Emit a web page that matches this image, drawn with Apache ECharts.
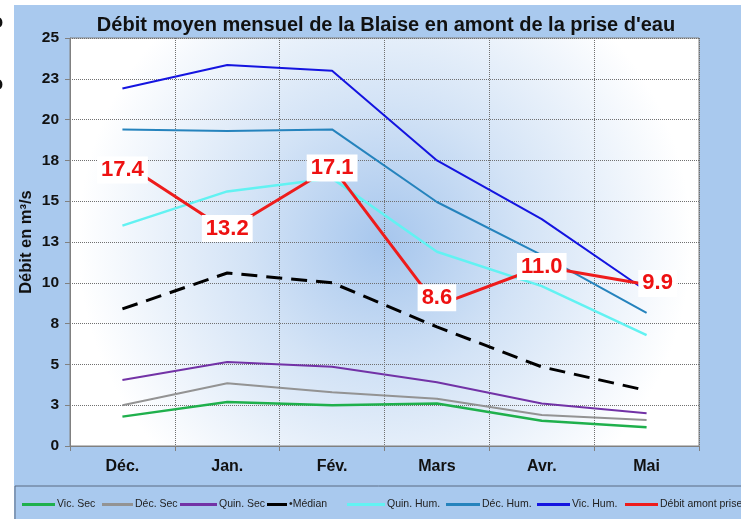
<!DOCTYPE html>
<html>
<head>
<meta charset="utf-8">
<script src="https://cdn.jsdelivr.net/npm/echarts@6/dist/echarts.min.js"></script>
<style>
html, body { margin: 0; padding: 0; background: #fff; }
#chart { width: 741px; height: 519px; }
</style>
</head>
<body>
<div id="chart"></div>
<script>
/** ---------- données ---------- */
var mois = ['Déc.', 'Jan.', 'Fév.', 'Mars', 'Avr.', 'Mai'];

var vicSec   = [1.8, 2.7, 2.5, 2.6, 1.55, 1.15];
var decSec   = [2.5, 3.85, 3.3, 2.9, 1.9, 1.6];
var quinSec  = [4.05, 5.15, 4.85, 3.9, 2.6, 2.0];
var median   = [8.4, 10.6, 10.0, 7.3, 4.85, 3.4];
var quinHum  = [13.5, 15.6, 16.4, 11.9, 9.8, 6.8];
var decHum   = [19.4, 19.3, 19.4, 14.95, 11.7, 8.15];
var vicHum   = [21.9, 23.35, 23.0, 17.5, 13.9, 9.5];
var debitAmont = [17.4, 13.2, 17.1, 8.6, 11.0, 9.9];

var fontFam = 'Arial, "Liberation Sans", Helvetica, sans-serif';

/** ---------- séries ---------- */
function ligne(nom, data, couleur, largeur, type) {
    return {
        name: nom,
        type: 'line',
        data: data,
        symbol: 'none',
        lineStyle: { color: couleur, width: largeur, type: type || 'solid' },
        itemStyle: { color: couleur },
        z: 3
    };
}

// décalage des étiquettes du débit amont
var decalages = [[0, 8], [0, -2], [0, 1], [0, -8], [0, 0], [11, -1]];
var debitData = debitAmont.map(function (v, i) {
    return { value: v, label: { offset: decalages[i] } };
});

/** ---------- légende : une par série (position à la main) ---------- */
var legendeNoms = ['Vic. Sec', 'Déc. Sec', 'Quin. Sec', 'Médian', 'Quin. Hum.', 'Déc. Hum.', 'Vic. Hum.', 'Débit amont prise'];
var legendeX = [22, 102, 180, 267, 347, 446, 537, 625];
var legendeW = [33, 31, 37, 20, 38, 34, 33, 33];
var legendes = legendeNoms.map(function (nom, i) {
    return {
        data: [nom],
        left: legendeX[i] - 5,
        top: 494,
        itemWidth: legendeW[i],
        itemHeight: 3,
        icon: 'rect',
        textStyle: { fontSize: 10.5, color: '#222', fontFamily: fontFam, padding: [0, 0, 0, -3] },
        formatter: function (name) {
            return name === 'Médian' ? '•Médian' : name;
        }
    };
});

var chart = echarts.init(document.getElementById('chart'));

var option = {
    backgroundColor: '#ffffff',
    animation: false,
    textStyle: { fontFamily: fontFam },
    graphic: [
        { type: 'rect', z: -10, shape: { x: 14, y: 5, width: 730, height: 520 }, style: { fill: '#a9c9ee' } },
        { type: 'rect', z: -9, shape: { x: 15, y: 486, width: 740, height: 40 }, style: { fill: 'none', stroke: '#5b6b82', lineWidth: 1 } },
        { type: 'text', left: -9, top: 12, style: { text: 'o', font: 'bold 20px ' + fontFam, fill: '#111' } },
        { type: 'text', left: -9, top: 74, style: { text: 'o', font: 'bold 20px ' + fontFam, fill: '#111' } }
    ],
    title: {
        text: "Débit moyen mensuel de la Blaise en amont de la prise d'eau",
        left: 381,
        textAlign: 'center',
        top: 10,
        textStyle: { fontSize: 20, fontWeight: 'bold', color: '#111', fontFamily: fontFam }
    },
    legend: legendes,
    grid: {
        left: 70,
        right: 42,
        top: 38,
        bottom: 73,
        show: true,
        borderColor: '#808080',
        borderWidth: 1,
        backgroundColor: {
            type: 'radial', x: 0.5, y: 0.5, r: 0.75,
            colorStops: [
                { offset: 0, color: '#a6c6ed' },
                { offset: 0.45, color: '#d3e3f6' },
                { offset: 1, color: '#ffffff' }
            ]
        }
    },
    xAxis: {
        type: 'category',
        data: mois,
        boundaryGap: true,
        axisLine: { lineStyle: { color: '#808080' } },
        axisTick: { show: true, length: 5, lineStyle: { color: '#808080' } },
        axisLabel: { fontSize: 16, fontWeight: 'bold', color: '#111', margin: 13, fontFamily: fontFam },
        splitLine: { show: true, lineStyle: { color: '#707070', type: 'dotted', width: 1 } }
    },
    yAxis: {
        type: 'value',
        min: 0,
        max: 25,
        interval: 2.5,
        name: 'Débit en m³/s',
        nameLocation: 'middle',
        nameGap: 35,
        nameMoveOverlap: false,
        nameTextStyle: { fontSize: 16.5, fontWeight: 'bold', color: '#111', fontFamily: fontFam },
        axisLine: { show: true, lineStyle: { color: '#808080' } },
        axisTick: { show: true, length: 5, lineStyle: { color: '#808080' } },
        axisLabel: {
            fontSize: 15.5, fontWeight: 'bold', color: '#111', margin: 11, fontFamily: fontFam,
            formatter: function (v) { return Math.round(v); }
        },
        splitLine: { show: true, lineStyle: { color: '#707070', type: 'dotted', width: 1 } }
    },
    series: [
        ligne('Vic. Sec', vicSec, '#1fb04c', 2.5),
        ligne('Déc. Sec', decSec, '#939393', 2),
        ligne('Quin. Sec', quinSec, '#7232a6', 2),
        ligne('Médian', median, '#000000', 3, [16, 9]),
        ligne('Quin. Hum.', quinHum, '#62f2f2', 2.5),
        ligne('Déc. Hum.', decHum, '#2583bd', 2),
        ligne('Vic. Hum.', vicHum, '#1414e0', 2),
        {
            name: 'Débit amont prise',
            type: 'line',
            data: debitData,
            symbol: 'circle',
            symbolSize: 2,
            showSymbol: true,
            lineStyle: { color: '#ee1c1c', width: 3 },
            itemStyle: { color: '#ee1c1c' },
            z: 5,
            label: {
                show: true,
                position: 'inside',
                fontSize: 22,
                fontWeight: 'bold',
                color: '#ee1111',
                fontFamily: fontFam,
                backgroundColor: '#ffffff',
                padding: [4, 4, 1, 4],
                formatter: function (p) { return p.value.toFixed(1); }
            }
        }
    ]
};

chart.setOption(option);

window.onresize = function () {
    chart.resize();
};
</script>
</body>
</html>
